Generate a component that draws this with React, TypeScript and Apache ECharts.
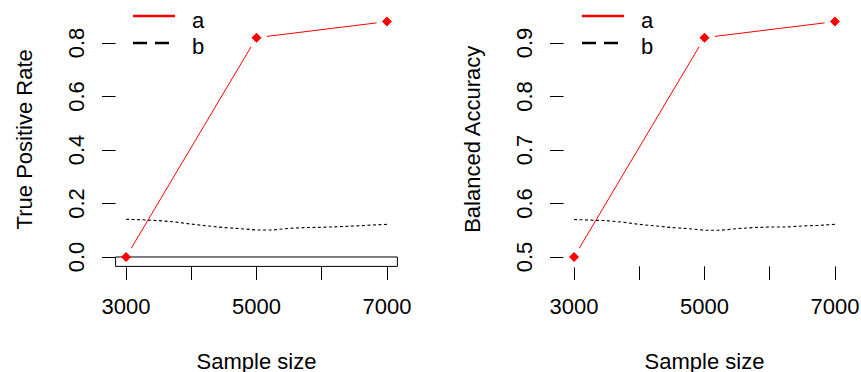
import React, { useEffect, useRef } from "react";
import * as echarts from "echarts";

// ---- data ----
const seriesNames = ["a", "b"];
const sampleSizes = [3000, 5000, 7000];
const tprA = [0.0, 0.82, 0.88];
const baA = [0.5, 0.91, 0.94];

const bSizes = [3000, 3250, 3500, 3750, 4000, 4250, 4500, 4750, 5000, 5250, 5500, 5750, 6000, 6250, 6500, 6750, 7000];
const tprB = [0.141, 0.139, 0.136, 0.131, 0.123, 0.116, 0.110, 0.106, 0.101, 0.101, 0.107, 0.110, 0.111, 0.113, 0.116, 0.119, 0.122];
const baB = [0.570, 0.569, 0.568, 0.565, 0.561, 0.558, 0.555, 0.553, 0.550, 0.550, 0.553, 0.555, 0.556, 0.556, 0.558, 0.559, 0.561];

const xTicks = [3000, 4000, 5000, 6000, 7000];
const xLabels = [3000, 5000, 7000];
const tprTicks = [0.0, 0.2, 0.4, 0.6, 0.8];
const baTicks = [0.5, 0.6, 0.7, 0.8, 0.9];

const xTitle = "Sample size";
const yTitles = ["True Positive Rate", "Balanced Accuracy"];

// R-style axis range (4% extension)
function rRange(vals: number[]): [number, number] {
  const mn = Math.min(...vals);
  const mx = Math.max(...vals);
  const pad = (mx - mn) * 0.04;
  return [mn - pad, mx + pad];
}

const FONT = "Liberation Sans, Arial, sans-serif";
const FS = 22;

export default function App() {
  const ref = useRef<HTMLDivElement>(null);

  useEffect(() => {
    if (!ref.current) return;
    const chart = echarts.init(ref.current, undefined, { renderer: "svg" });

    const xr = rRange([...sampleSizes, ...bSizes]);
    const yr = [rRange([...tprA, ...tprB]), rRange([...baA, ...baB])];
    const aVals = [tprA, baA];
    const bVals = [tprB, baB];
    const yTicks = [tprTicks, baTicks];

    const gridLefts = [115.6, 563.6];
    const grids = gridLefts.map((l) => ({
      left: l,
      top: 12.2,
      width: 281.8,
      height: 254.2,
      outerBoundsMode: "none",
      containLabel: false,
    }));

    const textStyle = { color: "#000", fontSize: FS, fontFamily: FONT };

    const xAxes = [0, 1].map((i) => ({
      type: "value",
      gridIndex: i,
      min: xr[0],
      max: xr[1],
      axisLine: { show: false, onZero: false },
      splitLine: { show: false },
      axisTick: {
        show: true,
        inside: false,
        length: 13.6,
        customValues: xTicks,
        lineStyle: { color: "#000", width: 1 },
      },
      axisLabel: {
        ...textStyle,
        customValues: xLabels,
        margin: 28.8,
        formatter: (v: number) => String(v),
      },
      name: xTitle,
      nameLocation: "middle",
      nameGap: 84,
      nameTextStyle: textStyle,
    }));

    const yAxes = [0, 1].map((i) => ({
      type: "value",
      gridIndex: i,
      min: yr[i][0],
      max: yr[i][1],
      axisLine: { show: false, onZero: false },
      splitLine: { show: false },
      axisTick: {
        show: true,
        inside: false,
        length: 13.6,
        customValues: yTicks[i],
        lineStyle: { color: "#000", width: 1 },
      },
      axisLabel: {
        ...textStyle,
        customValues: yTicks[i],
        rotate: 90,
        margin: 28.4,
        formatter: (v: number) => v.toFixed(1),
      },
      name: yTitles[i],
      nameLocation: "middle",
      nameRotate: 90,
      nameGap: 80,
      nameTextStyle: textStyle,
    }));

    const series: any[] = [];
    [0, 1].forEach((i) => {
      series.push({
        type: "line",
        name: seriesNames[1],
        xAxisIndex: i,
        yAxisIndex: i,
        data: bSizes.map((x, k) => [x, bVals[i][k]]),
        showSymbol: false,
        lineStyle: { color: "#000", width: 1.1, type: [3, 2.5] },
        z: 2,
        silent: true,
      });
      series.push({
        type: "line",
        name: seriesNames[0],
        xAxisIndex: i,
        yAxisIndex: i,
        data: sampleSizes.map((x, k) => [x, aVals[i][k]]),
        showSymbol: false,
        lineStyle: { color: "#ff0000", width: 1 },
        z: 3,
        silent: true,
      });
      // white halo to create R "type='b'" gaps
      series.push({
        type: "scatter",
        xAxisIndex: i,
        yAxisIndex: i,
        data: sampleSizes.map((x, k) => [x, aVals[i][k]]),
        symbol: "circle",
        symbolSize: 21,
        itemStyle: { color: "#fff", opacity: 1 },
        z: 4,
        silent: true,
      });
      series.push({
        type: "scatter",
        xAxisIndex: i,
        yAxisIndex: i,
        data: sampleSizes.map((x, k) => [x, aVals[i][k]]),
        symbol: "diamond",
        symbolSize: 10,
        itemStyle: { color: "#ff0000", opacity: 1 },
        z: 6,
        silent: true,
      });
    });
    // partial box in the left panel, from plot bottom up to y = 0
    series.push({
      type: "line",
      xAxisIndex: 0,
      yAxisIndex: 0,
      data: [
        [xr[0], yr[0][0]],
        [xr[1], yr[0][0]],
        [xr[1], 0],
        [xr[0], 0],
        [xr[0], yr[0][0]],
      ],
      showSymbol: false,
      lineStyle: { color: "#000", width: 1 },
      z: 5,
      silent: true,
    });

    const legendX = [133, 582];
    const graphic: any[] = [];
    legendX.forEach((lx) => {
      graphic.push(
        {
          type: "line",
          shape: { x1: lx, y1: 16, x2: lx + 42, y2: 16 },
          style: { stroke: "#ff0000", lineWidth: 2.7 },
        },
        {
          type: "line",
          shape: { x1: lx, y1: 43, x2: lx + 36, y2: 43 },
          style: { stroke: "#000", lineWidth: 2.7, lineDash: [14, 8] },
        },
        {
          type: "text",
          x: lx + 59,
          y: 20.4,
          style: { text: seriesNames[0], font: `${FS}px ${FONT}`, fill: "#000", verticalAlign: "middle" },
        },
        {
          type: "text",
          x: lx + 59,
          y: 46.4,
          style: { text: seriesNames[1], font: `${FS}px ${FONT}`, fill: "#000", verticalAlign: "middle" },
        }
      );
    });

    chart.setOption({
      animation: false,
      backgroundColor: "#fff",
      grid: grids,
      xAxis: xAxes,
      yAxis: yAxes,
      series,
      graphic,
    });

    return () => chart.dispose();
  }, []);

  return (
    <div
      ref={ref}
      style={{ position: "absolute", left: 0, top: 0, width: 861, height: 372, background: "#fff" }}
    />
  );
}
